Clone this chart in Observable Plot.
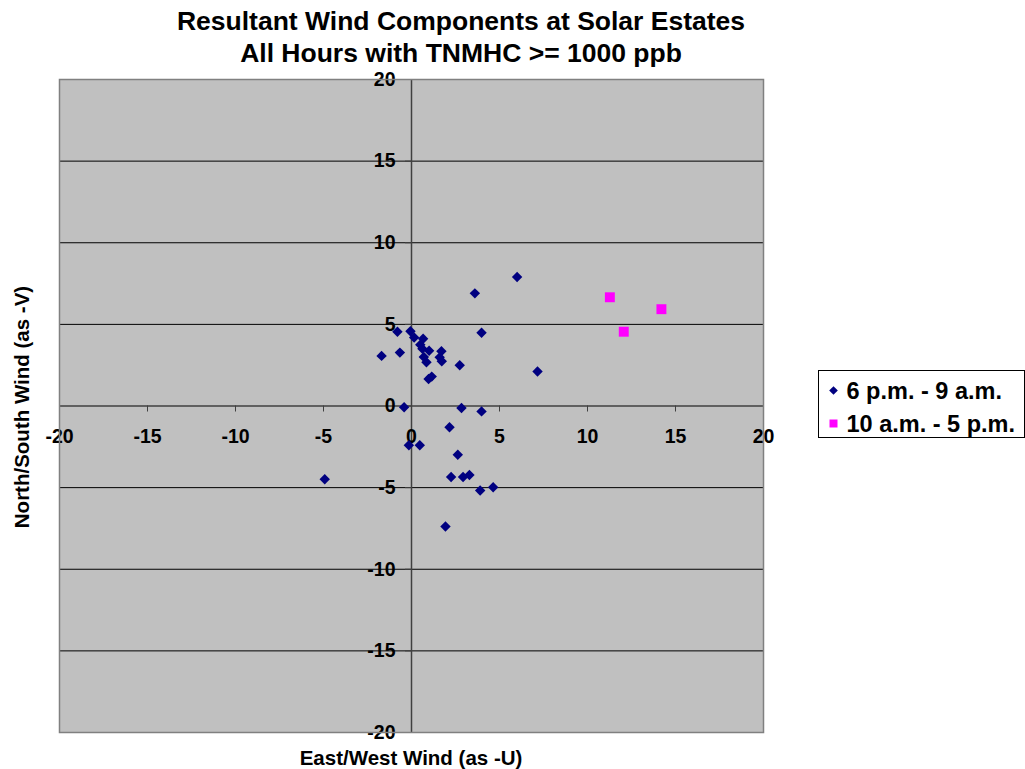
<!DOCTYPE html>
<html>
<head>
<meta charset="utf-8">
<script src="https://cdn.jsdelivr.net/npm/d3@7"></script>
<script src="https://cdn.jsdelivr.net/npm/@observablehq/plot@0.6"></script>
<style>
  html, body { margin: 0; padding: 0; background: #fff; }
  #chart { width: 1025px; height: 769px; }
</style>
</head>
<body>
<div id="chart"></div>
<script>
// Resultant wind components (-U, -V) for hours with TNMHC >= 1000 ppb
const nightU = [6.0, 3.6, -0.8, -0.06, 0.15, 0.66, 0.5, 0.62, 1.0, 0.7, 0.85, 1.7, 1.6, 1.72, 0.97, 1.15,
                -1.7, -0.66, 2.74, 3.98, 7.16, -0.42, 2.84, 3.98, 2.16, -0.15, 0.47, 2.63, 2.25, 2.93,
                3.29, 3.9, 4.64, 1.93, -4.93];
const nightV = [7.9, 6.9, 4.55, 4.58, 4.2, 4.12, 3.75, 3.5, 3.39, 3.0, 2.68, 3.35, 2.98, 2.74, 1.65, 1.8,
                3.07, 3.27, 2.5, 4.49, 2.11, -0.08, -0.12, -0.33, -1.3, -2.4, -2.4, -2.99, -4.35, -4.35,
                -4.23, -5.18, -4.98, -7.38, -4.49];
const dayU = [11.27, 14.2, 12.06];
const dayV = [6.66, 5.93, 4.55];

const seriesNames = ["6 p.m. - 9 a.m.", "10 a.m. - 5 p.m."];
const titleLines = ["Resultant Wind Components at Solar Estates", "All Hours with TNMHC >= 1000 ppb"];
const xTitle = "East/West Wind (as -U)";
const yTitle = "North/South Wind (as -V)";
const xTicks = [-20, -15, -10, -5, 0, 5, 10, 15, 20];
const yTicks = [-20, -15, -10, -5, 0, 5, 10, 15, 20];

const night = nightU.map((u, i) => ({u, v: nightV[i]}));
const day = dayU.map((u, i) => ({u, v: dayV[i]}));

const FONT = "Liberation Sans, Arial, Helvetica, sans-serif";
const NAVY = "#000080";
const MAGENTA = "#ff00ff";

const W = 1025, H = 769;
const mLeft = 59, mRight = 262, mTop = 79, mBottom = 37;

const chart = Plot.plot({
  width: W,
  height: H,
  marginLeft: mLeft,
  marginRight: mRight,
  marginTop: mTop,
  marginBottom: mBottom,
  style: {fontFamily: FONT, background: "#fff", overflow: "visible"},
  x: {domain: [-20, 20], axis: null},
  y: {domain: [-20, 20], axis: null},
  marks: [
    Plot.frame({fill: "#c0c0c0"}),
    // horizontal major gridlines
    Plot.ruleY(yTicks.filter(d => d !== 0), {stroke: "#000", strokeWidth: 1}),
    // axes crossing at the origin
    Plot.ruleY([0], {stroke: "#404040", strokeWidth: 1.5}),
    Plot.ruleX([0], {stroke: "#404040", strokeWidth: 1.5}),
    // tick marks: below the horizontal axis, left of the vertical axis
    Plot.ruleX(xTicks, {x: d => d, y1: 0, y2: 0, insetBottom: -6, stroke: "#404040"}),
    Plot.ruleY(yTicks, {y: d => d, x1: 0, x2: 0, insetLeft: -6, stroke: "#404040"}),
    // tick labels
    Plot.text(xTicks, {x: d => d, y: 0, dy: 31, text: d => String(d), fontSize: 19.5, fontWeight: "bold", fill: "#000"}),
    Plot.text(yTicks, {x: 0, y: d => d, dx: -16, text: d => String(d), textAnchor: "end", fontSize: 19.5, fontWeight: "bold", fill: "#000"}),
    // data
    Plot.dot(night, {x: "u", y: "v", symbol: "diamond2", r: 4.7, fill: NAVY, stroke: "none"}),
    Plot.dot(day, {x: "u", y: "v", symbol: "square", r: 5.6, fill: MAGENTA, stroke: "none"}),
    Plot.frame({stroke: "#808080", strokeWidth: 1.5})
  ]
});

document.getElementById("chart").appendChild(chart);

// Title, axis titles and legend drawn into the same SVG
const svg = d3.select(chart);
const addText = (sel, txt, size, anchor) => sel.append("text")
  .attr("text-anchor", anchor).attr("dominant-baseline", "central")
  .attr("font-family", FONT).attr("font-weight", "bold").attr("font-size", size)
  .attr("fill", "#000")
  .text(txt);

const titleX = 461;
addText(svg, titleLines[0], 26.5, "middle").attr("x", titleX).attr("y", 21);
addText(svg, titleLines[1], 26.5, "middle").attr("x", titleX).attr("y", 53);

addText(svg, xTitle, 20.5, "middle").attr("x", 411).attr("y", 757);
addText(svg, yTitle, 20.5, "middle").attr("transform", "translate(21,407) rotate(-90)");

// Legend box
const lg = svg.append("g").attr("transform", "translate(818.5,370.5)");
lg.append("rect").attr("width", 206).attr("height", 67)
  .attr("fill", "#fff").attr("stroke", "#000").attr("stroke-width", 1);
const items = [
  {name: seriesNames[0], symbol: d3.symbolDiamond2, size: 48, color: NAVY},
  {name: seriesNames[1], symbol: d3.symbolSquare, size: 64, color: MAGENTA}
];
items.forEach((it, i) => {
  const cy = 20 + i * 33;
  lg.append("path")
    .attr("d", d3.symbol(it.symbol, it.size)())
    .attr("transform", `translate(15,${cy})`)
    .attr("fill", it.color);
  addText(lg, it.name, 23.5, "start").attr("x", 28).attr("y", cy);
});
</script>
</body>
</html>
